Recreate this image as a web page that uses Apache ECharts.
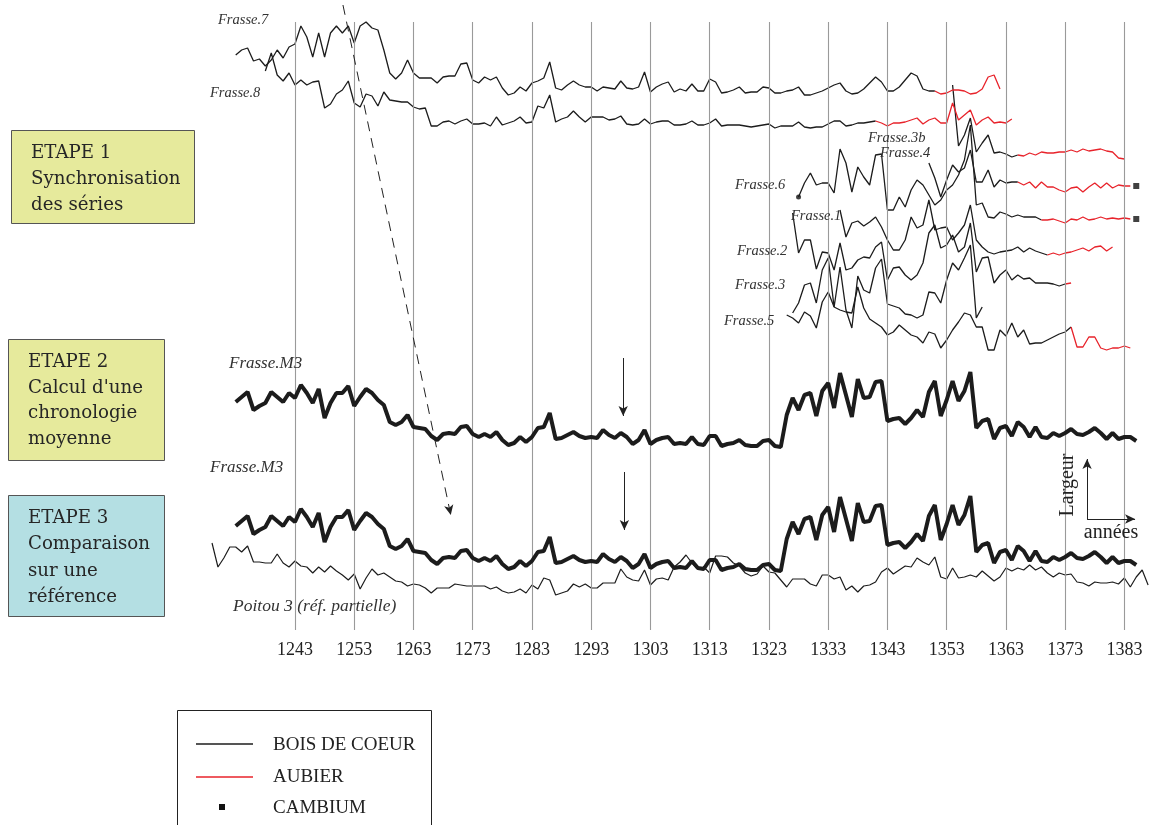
<!DOCTYPE html>
<html>
<head>
<meta charset="utf-8">
<script src="https://cdn.jsdelivr.net/npm/echarts@6/dist/echarts.min.js"></script>
<style>
  html, body { margin: 0; padding: 0; background: #fff; }
  #chart { width: 1150px; height: 825px; }
</style>
</head>
<body>
<div id="chart"></div>
<script>
// Years marked on the time axis
const tickYears = [1243, 1253, 1263, 1273, 1283, 1293, 1303, 1313, 1323, 1333, 1343, 1353, 1363, 1373, 1383];

// Ring widths (arbitrary units), one value per year from the first year.
// "aubier" = year where the heartwood ends and the sapwood begins.
const frasse7Start = 1233, frasse7Aubier = 1351;
const frasse7 = [45,50,52,39,41,34,40,50,42,53, 56,74,63,43,67,43,67,74,67,74, 57,74,78,72,70,50,27,21,27,40,
  27,22,22,22,17,23,24,24,36,37, 20,17,23,20,23,12,5,7,13,9, 17,19,22,38,12,10,15,19,15,13, 13,9,13,
  12,11,19,12,11,13,28,8,13,16,18,8,11,9,16,9,9,21,18,7,8,10,13,7,8,8,13,12,7,
  7,9,10,13,5,5,7,9,12,15,17,9,6,7,11,17,23,18,9,9,13,20,27,24,11,9,9,
  6,7,10,10,9,6,7,11,23,25,11];

const frasse8Start = 1238, frasse8Aubier = 1341;
const frasse8 = [64,82,60,54,62,50,55,50,53,54, 27,31,41,45,54,32,28,41,39,29, 43,35,34,33,33,28,26,27,9,9,
  13,14,11,14,16,11,11,12,9,18, 10,12,14,18,12,13,29,27,40,13, 16,18,24,18,13,18,18,18,
  15,16,19,11,10,11,16,11,13,14, 14,10,10,11,14,10,10,12,16,9, 10,10,10,9,8,9,10,11,7,9,
  9,9,13,8,7,8,8,11,14,14, 9,10,12,12,13,14,
  12,9,12,12,13,15,17,11,15,17,12,12,32,15,20,25,10,15,18,12,13,12,16];

const frasse3bStart = 1354, frasse3bAubier = 1365;
const frasse3b = [80,19,30,47,13,22,30,12,13,11,8,10, 9,12,10,13,12,12,13,13,15,13,16,14,15,16,14,13,7,6];

const frasse4Start = 1350, frasse4Aubier = 1365, frasse4Cambium = 1385;
const frasse4 = [42,27,8,25,40,33,37,55,23,23,35,18,25,22,23,23,
  20,23,17,23,18,18,15,13,17,18,13,18,22,17,22,17,20,19,19];

const frasse6Start = 1328, frasse6Aubier = 1369, frasse6Cambium = 1385;
const frasse6 = [33,47,57,45,47,47,37,81,67,38, 63,53,45,75,76,20,20,33,23,40, 50,45,35,25,30,40,45,55,70,105,
  25,27,13,12,18,16,13,15,13,13, 13,10, 10,11,9,7,11,10,13,10,11,13,11,12,11,12,11];

const frasse1Start = 1335, frasse1Aubier = 1370;
const frasse1 = [55,28,42,44,39,43,48,38,25,15, 15,25,48,37,40,65,35,37,38,25, 32,40,60,25,18,13,11,13,14,15,
  18,13,17,14,12,10, 12,10,12,13,15,17,14,18,19,14,18];

const frasse2Start = 1327, frasse2Aubier = 1373;
const frasse2 = [82,42,55,55,26,43,42,25,52,25, 27,35,38,37,48,53,15,27,28,20, 15,20,32,62,70,47,50,60,43,48,
  72,23,37,38,12,20,25,15,20,16, 17,12,12,12,11,9,11, 12];

const frasse3Start = 1327;
const frasse3 = [22,32,50,52,32,65,77,28,68,25, 7,59,45,42,67,76,31,29,27,21, 20,17,20,43,42,32,55,72,65,77, 90,17,28];

const frasse5Start = 1326, frasse5Aubier = 1374;
const frasse5 = [45,42,37,48,44,32,58,68,53,50, 48,47,73,52,41,37,33,25,28,35, 30,25,23,17,28,26,12,20,30,38,
  47,45,33,33,10,10,30,24,37,23, 30,16,17,17,20,23,26,28,33, 13,13,23,23,12,10,12,12,14,12];

// Mean chronology Frasse.M3
const m3Start = 1233;
const m3 = [48,53,58,40,44,47,58,53,48,57, 52,65,57,47,61,32,47,57,57,64, 44,53,61,57,50,45,28,25,28,35,
  23,22,21,14,10,16,17,16,23,24, 16,13,16,13,18,10,5,7,13,8, 13,22,23,37,11,12,15,18,14,12,
  13,12,20,15,12,17,13,6,10,20, 6,10,12,13,6,7,
  6,13,6,5,14,14,4,6,7,10, 5,4,4,9,10,4,3,35,52,40, 55,57,34,59,67,42,77,55,33,71,
  52,53,68,69,29,31,32,26,32,40, 33,58,69,34,50,69,49,59,78,22, 29,31,11,22,24,14,28,23,13,23,
  13,12,17,14,17,21,16,15,18,22, 17,11,17,11,13,13,9];

// Regional reference Poitou 3 (partial)
const poitouStart = 1229;
const poitou = [57,33,42,53,53,48,54,38,38,37, 37,46,37,33,39,34,33,27,33,28, 34,29,25,20,26,11,22,31,25,27,
  23,19,18,14,16,15,12,7,12,12, 12,16,15,14,14,14,14,11,13,9, 7,8,11,7,15,11,22,20,5,7,
  9,16,13,16,12,12,17,17,17,31, 23,20,19,30,15,21,22,20,33,38,
  45,37,31,33,27,44,44,43,37,34, 27,24,26,34,28,27,20,13,21,21, 21,16,14,25,25,21,23,10,14,8,
  14,15,18,28,32,26,30,34,33,42, 38,35,43,23,21,32,22,23,25,23, 29,24,19,23,32,29,32,30,35,30,
  33,27,23,27,25,26,18,17,14,18, 17,17,18,16,22,13,23,30,15];

// Vertical stacking level of each curve on the shared value axis
const level = {
  f7: 530, f8: 495, f3b: 465, f4: 425, f6: 400, f1: 365, f2: 335, f3: 295, f5: 270,
  m3top: 180, m3bottom: 56, poitou: 30
};

const BLACK = '#1c1c1c', RED = '#e8232b', GRIDC = '#9a9a9a';

function points(start, vals, base) {
  return vals.map((v, i) => [start + i, base + v]);
}
function heartwood(start, vals, base, aubier) {
  return points(start, vals, base).filter(p => aubier == null || p[0] <= aubier);
}
function sapwood(start, vals, base, aubier) {
  return points(start, vals, base).filter(p => p[0] >= aubier);
}
function lastValue(start, vals, base) {
  return base + vals[vals.length - 1];
}

function thin(name, data, color, width, z) {
  return { name, type: 'line', data, showSymbol: false, symbol: 'none', silent: true,
    lineStyle: { color, width: width || 1.3 }, z: z || 3, animation: false };
}

const series = [];

// vertical reference lines on the decade years
series.push({
  type: 'line', data: [], silent: true, z: 1,
  markLine: {
    silent: true, symbol: ['none', 'none'], label: { show: false }, animation: false,
    lineStyle: { color: GRIDC, width: 1.1, type: 'solid' },
    data: tickYears.map(y => [{ coord: [y, 608] }, { coord: [y, 0] }])
  }
});

const trees = [
  ['Frasse.7', frasse7Start, frasse7, level.f7, frasse7Aubier],
  ['Frasse.8', frasse8Start, frasse8, level.f8, frasse8Aubier],
  ['Frasse.3b', frasse3bStart, frasse3b, level.f3b, frasse3bAubier],
  ['Frasse.4', frasse4Start, frasse4, level.f4, frasse4Aubier],
  ['Frasse.6', frasse6Start, frasse6, level.f6, frasse6Aubier],
  ['Frasse.1', frasse1Start, frasse1, level.f1, frasse1Aubier],
  ['Frasse.2', frasse2Start, frasse2, level.f2, frasse2Aubier],
  ['Frasse.3', frasse3Start, frasse3, level.f3, null],
  ['Frasse.5', frasse5Start, frasse5, level.f5, frasse5Aubier]
];
trees.forEach(([name, start, vals, base, aubier]) => {
  series.push(thin(name, heartwood(start, vals, base, aubier), BLACK, 1.3, 3));
  if (aubier != null) series.push(thin(name + ' aubier', sapwood(start, vals, base, aubier), RED, 1.3, 4));
});

// mean chronology, twice (step 2 and step 3)
series.push(thin('Frasse.M3', points(m3Start, m3, level.m3top), BLACK, 4, 5));
series.push(thin('Frasse.M3 (comparaison)', points(m3Start, m3, level.m3bottom), BLACK, 4, 5));
series.push(thin('Poitou 3', points(poitouStart, poitou, level.poitou), BLACK, 1.2, 4));

// cambium (last ring under the bark) and pith start marker
series.push({
  type: 'scatter', silent: true, symbol: 'rect', symbolSize: 6, itemStyle: { color: '#111' }, z: 6,
  data: [
    [frasse4Cambium, lastValue(frasse4Start, frasse4, level.f4)],
    [frasse6Cambium, lastValue(frasse6Start, frasse6, level.f6)]
  ]
});
series.push({
  type: 'scatter', silent: true, symbol: 'circle', symbolSize: 5, itemStyle: { color: '#111' }, z: 6,
  data: [[frasse6Start, level.f6 + frasse6[0]]]
});

// arrows: matching the chronology onto the reference, and the dated ring
series.push({
  type: 'line', data: [], silent: true, z: 6,
  markLine: {
    silent: true, label: { show: false }, animation: false,
    symbol: ['none', 'arrow'], symbolSize: [7, 10],
    data: [
      [{ coord: [1251.1, 625], lineStyle: { type: [10, 7], color: '#222', width: 1 } }, { coord: [1269.3, 115] }],
      [{ coord: [1298.4, 272], lineStyle: { type: 'solid', color: '#222', width: 1 } }, { coord: [1298.4, 214] }],
      [{ coord: [1298.6, 158], lineStyle: { type: 'solid', color: '#222', width: 1 } }, { coord: [1298.6, 100] }],
      [{ coord: [1376.7, 111], lineStyle: { type: 'solid', color: '#222', width: 1 } }, { coord: [1376.7, 171] }],
      [{ coord: [1376.7, 111], lineStyle: { type: 'solid', color: '#222', width: 1 } }, { coord: [1384.8, 111] }]
    ]
  }
});

const SERIF = '"Liberation Serif", "DejaVu Serif", serif';
const BOXFONT = '"DejaVu Serif", "Liberation Serif", serif';

function label(text, x, y, size, opts) {
  return { type: 'text', x, y, silent: true, z: 10,
    style: Object.assign({ text, fill: '#333', font: 'italic ' + size + 'px ' + SERIF,
      verticalAlign: 'middle', align: 'left' }, opts || {}) };
}
function stepBox(x, y, w, h, fill, lines, lineGap) {
  const els = [{ type: 'rect', silent: true, shape: { x, y, width: w, height: h },
    style: { fill, stroke: '#555', lineWidth: 1 } }];
  lines.forEach((t, i) => {
    els.push({ type: 'text', silent: true, x: x + 19.5, y: y + 23 + i * lineGap,
      style: { text: t, fill: '#262626', font: '18.2px ' + BOXFONT, verticalAlign: 'middle' } });
  });
  return { type: 'group', children: els };
}

const graphic = [
  stepBox(11.5, 130.5, 183, 93, '#e6ea9c', ['ETAPE 1', 'Synchronisation', 'des séries'], 26),
  stepBox(8.5, 339.5, 156, 121, '#e6ea9c', ['ETAPE 2', "Calcul d'une", 'chronologie', 'moyenne'], 25.6),
  stepBox(8.5, 495.5, 156, 121, '#b4dfe3', ['ETAPE 3', 'Comparaison', 'sur une', 'référence'], 26.2),

  label('Frasse.7', 218, 20, 14.5),
  label('Frasse.8', 210, 93, 14.5),
  label('Frasse.3b', 868, 138, 14.5),
  label('Frasse.4', 880, 153, 14.5),
  label('Frasse.6', 735, 185, 14.5),
  label('Frasse.1', 791, 216, 14.5),
  label('Frasse.2', 737, 251, 14.5),
  label('Frasse.3', 735, 285, 14.5),
  label('Frasse.5', 724, 321, 14.5),
  label('Frasse.M3', 229, 364, 17),
  label('Frasse.M3', 210, 468, 17),
  label('Poitou 3 (réf. partielle)', 233, 606, 17.5),

  { type: 'text', silent: true, x: 1068, y: 485, rotation: Math.PI / 2, z: 10,
    style: { text: 'Largeur', fill: '#222', font: '20px ' + SERIF, align: 'center', verticalAlign: 'middle' } },
  { type: 'text', silent: true, x: 1111, y: 533, z: 10,
    style: { text: 'années', fill: '#222', font: '20px ' + SERIF, align: 'center', verticalAlign: 'middle' } },

  // key
  { type: 'group', children: [
    { type: 'rect', silent: true, shape: { x: 177.5, y: 710.5, width: 254, height: 130 },
      style: { fill: '#fff', stroke: '#222', lineWidth: 1 } },
    { type: 'line', silent: true, shape: { x1: 196, y1: 744, x2: 253, y2: 744 }, style: { stroke: BLACK, lineWidth: 1.3 } },
    { type: 'line', silent: true, shape: { x1: 196, y1: 777, x2: 253, y2: 777 }, style: { stroke: RED, lineWidth: 1.3 } },
    { type: 'rect', silent: true, shape: { x: 219, y: 804, width: 6, height: 6 }, style: { fill: '#111' } },
    { type: 'text', silent: true, x: 273, y: 745, style: { text: 'BOIS DE COEUR', fill: '#222', font: '19px ' + SERIF, verticalAlign: 'middle' } },
    { type: 'text', silent: true, x: 273, y: 777, style: { text: 'AUBIER', fill: '#222', font: '19px ' + SERIF, verticalAlign: 'middle' } },
    { type: 'text', silent: true, x: 273, y: 808, style: { text: 'CAMBIUM', fill: '#222', font: '19px ' + SERIF, verticalAlign: 'middle' } }
  ] }
];

const chart = echarts.init(document.getElementById('chart'), null, { renderer: 'canvas' });
chart.setOption({
  animation: false,
  backgroundColor: '#fff',
  grid: { left: 206.1, top: 0, width: 942, height: 630 },
  xAxis: {
    type: 'value', min: 1228, max: 1387,
    axisLine: { show: false }, axisTick: { show: false }, splitLine: { show: false },
    axisLabel: { customValues: tickYears, color: '#222', fontSize: 18, fontFamily: SERIF, margin: 11,
      formatter: v => String(v) }
  },
  yAxis: { type: 'value', min: 0, max: 630, show: false },
  series,
  graphic
});
</script>
</body>
</html>
